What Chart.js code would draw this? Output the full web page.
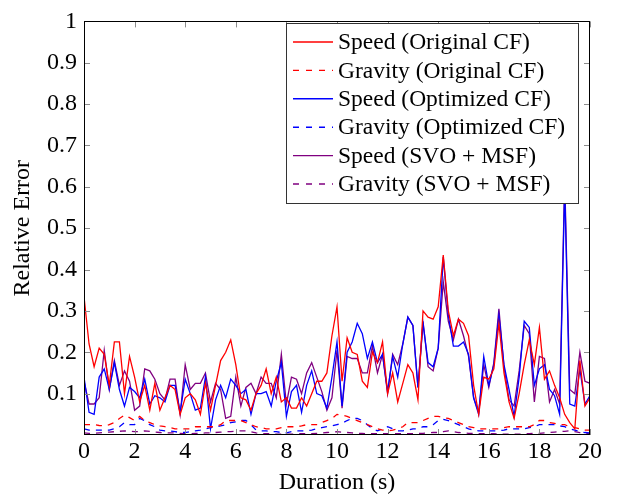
<!DOCTYPE html>
<html>
<head>
<meta charset="utf-8">
<script src="https://cdn.jsdelivr.net/npm/chart.js@4.4.1/dist/chart.umd.min.js"></script>
<style>
html,body{margin:0;padding:0;background:#fff;}
#wrap{width:620px;height:495px;}
</style>
</head>
<body>
<div id="wrap"><canvas id="c" width="620" height="495"></canvas></div>
<script>
const durations = [0,0.2,0.4,0.6,0.8,1,1.2,1.4,1.6,1.8,2,2.2,2.4,2.6,2.8,3,3.2,3.4,3.6,3.8,4,4.2,4.4,4.6,4.8,5,5.2,5.4,5.6,5.8,6,6.2,6.4,6.6,6.8,7,7.2,7.4,7.6,7.8,8,8.2,8.4,8.6,8.8,9,9.2,9.4,9.6,9.8,10,10.2,10.4,10.6,10.8,11,11.2,11.4,11.6,11.8,12,12.2,12.4,12.6,12.8,13,13.2,13.4,13.6,13.8,14,14.2,14.4,14.6,14.8,15,15.2,15.4,15.6,15.8,16,16.2,16.4,16.6,16.8,17,17.2,17.4,17.6,17.8,18,18.2,18.4,18.6,18.8,19,19.2,19.4,19.6,19.8,20];

const speedOriginal = [0.335,0.22,0.165,0.21,0.195,0.12,0.225,0.225,0.10,0.19,
0.14,0.08,0.12,0.06,0.125,0.06,0.09,0.12,0.11,0.05,
0.09,0.10,0.085,0.05,0.125,0.06,0.12,0.18,0.20,0.23,
0.17,0.09,0.085,0.06,0.10,0.12,0.16,0.10,0.14,0.08,
0.09,0.065,0.065,0.09,0.07,0.10,0.13,0.13,0.15,0.24,
0.31,0.13,0.235,0.20,0.195,0.13,0.115,0.20,0.175,0.225,
0.10,0.15,0.08,0.125,0.17,0.15,0.085,0.30,0.285,0.28,
0.31,0.435,0.30,0.24,0.28,0.27,0.24,0.12,0.05,0.14,
0.135,0.16,0.27,0.15,0.08,0.04,0.10,0.17,0.23,0.17,
0.26,0.135,0.155,0.12,0.09,0.05,0.03,0.015,0.18,0.07,
0.09];

const gravityOriginal = [0.025,0.025,0.025,0.023,0.022,0.025,0.03,0.04,0.048,0.042,
0.035,0.045,0.035,0.03,0.025,0.022,0.02,0.018,0.015,0.015,
0.015,0.015,0.02,0.02,0.02,0.02,0.02,0.025,0.035,0.035,
0.035,0.035,0.03,0.025,0.02,0.018,0.015,0.015,0.015,0.018,
0.02,0.02,0.02,0.022,0.025,0.025,0.025,0.03,0.035,0.04,
0.05,0.048,0.045,0.04,0.035,0.03,0.025,0.02,0.015,0.012,
0.01,0.012,0.015,0.02,0.03,0.03,0.03,0.035,0.04,0.045,
0.045,0.042,0.04,0.035,0.03,0.025,0.02,0.018,0.015,0.015,
0.015,0.015,0.015,0.018,0.02,0.02,0.02,0.02,0.02,0.025,
0.035,0.035,0.03,0.028,0.025,0.025,0.02,0.018,0.015,0.012,
0.012];

const speedOptimized = [0.14,0.055,0.05,0.14,0.16,0.11,0.175,0.11,0.07,0.115,
0.105,0.09,0.135,0.075,0.095,0.09,0.08,0.12,0.12,0.055,
0.135,0.10,0.06,0.065,0.14,0.015,0.085,0.12,0.09,0.135,
0.12,0.10,0.11,0.05,0.10,0.10,0.105,0.07,0.13,0.175,
0.045,0.105,0.12,0.055,0.12,0.155,0.10,0.095,0.065,0.14,
0.225,0.07,0.20,0.225,0.27,0.245,0.185,0.225,0.175,0.195,
0.105,0.19,0.14,0.22,0.285,0.265,0.115,0.27,0.175,0.165,
0.21,0.43,0.29,0.215,0.215,0.225,0.195,0.09,0.05,0.19,
0.12,0.17,0.29,0.17,0.11,0.045,0.14,0.275,0.26,0.12,
0.16,0.17,0.11,0.095,0.05,0.60,0.075,0.07,0.16,0.075,
0.095];

const gravityOptimized = [0.015,0.012,0.012,0.012,0.012,0.012,0.015,0.02,0.03,0.025,
0.025,0.04,0.035,0.025,0.02,0.012,0.01,0.01,0.008,0.006,
0.006,0.008,0.01,0.012,0.015,0.018,0.02,0.022,0.025,0.03,
0.032,0.035,0.035,0.025,0.012,0.01,0.01,0.008,0.008,0.006,
0.005,0.008,0.01,0.01,0.01,0.012,0.015,0.018,0.02,0.022,
0.025,0.028,0.035,0.04,0.04,0.035,0.025,0.015,0.01,0.015,
0.02,0.015,0.01,0.01,0.012,0.015,0.015,0.02,0.02,0.025,
0.035,0.038,0.035,0.03,0.025,0.02,0.015,0.012,0.01,0.01,
0.01,0.01,0.01,0.012,0.015,0.015,0.015,0.015,0.018,0.02,
0.025,0.025,0.025,0.025,0.022,0.02,0.015,0.012,0.008,0.006,
0.005];

const speedSVO = [0.13,0.075,0.075,0.09,0.205,0.11,0.18,0.12,0.155,0.13,
0.06,0.07,0.16,0.155,0.135,0.10,0.085,0.135,0.135,0.05,
0.17,0.11,0.125,0.125,0.15,0.08,0.125,0.11,0.04,0.045,
0.14,0.07,0.115,0.125,0.10,0.14,0.125,0.125,0.09,0.195,
0.075,0.14,0.135,0.10,0.15,0.175,0.14,0.105,0.06,0.09,
0.205,0.065,0.19,0.185,0.185,0.15,0.15,0.215,0.15,0.195,
0.10,0.195,0.17,0.22,0.285,0.265,0.115,0.275,0.165,0.155,
0.21,0.37,0.275,0.23,0.28,0.24,0.19,0.09,0.055,0.17,
0.115,0.175,0.305,0.165,0.085,0.07,0.155,0.265,0.245,0.08,
0.19,0.185,0.08,0.11,0.075,0.62,0.11,0.10,0.20,0.13,
0.125];

const gravitySVO = [0.005,0.004,0.004,0.005,0.006,0.007,0.008,0.009,0.01,0.009,
0.008,0.008,0.01,0.009,0.007,0.006,0.005,0.005,0.005,0.004,
0.003,0.003,0.004,0.004,0.005,0.005,0.006,0.007,0.008,0.008,
0.009,0.01,0.01,0.008,0.005,0.003,0.003,0.003,0.002,0.002,
0.002,0.002,0.003,0.003,0.003,0.003,0.004,0.005,0.006,0.007,
0.008,0.007,0.006,0.005,0.004,0.004,0.003,0.003,0.003,0.003,
0.003,0.003,0.003,0.003,0.003,0.003,0.004,0.004,0.005,0.006,
0.006,0.008,0.01,0.008,0.006,0.005,0.004,0.004,0.003,0.003,
0.003,0.003,0.002,0.002,0.002,0.002,0.002,0.003,0.003,0.004,
0.004,0.005,0.006,0.007,0.008,0.009,0.01,0.008,0.006,0.004,
0.003];

const seriesLabels = ['Speed (Original CF)','Gravity (Original CF)','Speed (Optimized CF)','Gravity (Optimized CF)','Speed (SVO + MSF)','Gravity (SVO + MSF)'];
const xTicks = [0,2,4,6,8,10,12,14,16,18,20];
const yTicks = [0.1,0.2,0.3,0.4,0.5,0.6,0.7,0.8,0.9,1];

const RED = '#ff0000', BLUE = '#0000ff', PURPLE = '#800080';
const FONT = '"Liberation Serif", "DejaVu Serif", serif';
const DASH = [6,6];

function pts(arr){ return arr.map((v,i)=>({x:durations[i], y:v})); }

const seriesDefs = [
  {data: speedOriginal, color: RED, dash: []},
  {data: gravityOriginal, color: RED, dash: DASH},
  {data: speedOptimized, color: BLUE, dash: []},
  {data: gravityOptimized, color: BLUE, dash: DASH},
  {data: speedSVO, color: PURPLE, dash: []},
  {data: gravitySVO, color: PURPLE, dash: DASH}
];

const datasets = seriesDefs.map((s,i)=>({
  label: seriesLabels[i],
  data: pts(s.data),
  borderColor: s.color,
  backgroundColor: s.color,
  borderWidth: 1.3,
  borderDash: s.dash,
  pointRadius: 0,
  tension: 0,
  fill: false
}));

const framePlugin = {
  id: 'frame',
  afterDatasetsDraw(chart){
    const ctx = chart.ctx, a = chart.chartArea;
    const xs = chart.scales.x, ys = chart.scales.y;
    ctx.save();
    ctx.strokeStyle = '#8c8c8c';
    ctx.lineWidth = 1;
    const L = 6;
    ctx.beginPath();
    xTicks.forEach(t=>{
      const px = Math.round(xs.getPixelForValue(t)) + 0.5;
      ctx.moveTo(px, a.bottom); ctx.lineTo(px, a.bottom - L);
      ctx.moveTo(px, a.top); ctx.lineTo(px, a.top + L);
    });
    yTicks.forEach(t=>{
      const py = Math.round(ys.getPixelForValue(t)) + 0.5;
      ctx.moveTo(a.left, py); ctx.lineTo(a.left + L, py);
      ctx.moveTo(a.right, py); ctx.lineTo(a.right - L, py);
    });
    ctx.stroke();
    ctx.strokeStyle = '#000';
    ctx.lineWidth = 1;
    ctx.strokeRect(Math.round(a.left)+0.5, Math.round(a.top)+0.5, Math.round(a.right-a.left)-1, Math.round(a.bottom-a.top)-1);

    const bx = 286.5, by = 23.5, bw = 292, bh = 180;
    ctx.fillStyle = '#fff';
    ctx.fillRect(bx, by, bw, bh);
    ctx.strokeStyle = '#333';
    ctx.strokeRect(bx, by, bw, bh);
    ctx.font = '23.5px ' + FONT;
    ctx.textBaseline = 'middle';
    ctx.textAlign = 'left';
    seriesDefs.forEach((s,i)=>{
      const cy = 42 + i*28.4;
      ctx.strokeStyle = s.color;
      ctx.lineWidth = 1.4;
      ctx.setLineDash(s.dash.length ? [6,7] : []);
      ctx.beginPath();
      ctx.moveTo(293, cy); ctx.lineTo(333, cy);
      ctx.stroke();
      ctx.setLineDash([]);
      ctx.fillStyle = '#000';
      ctx.fillText(seriesLabels[i], 338, cy + 1);
    });
    ctx.restore();
  }
};

new Chart(document.getElementById('c'), {
  type: 'line',
  data: { datasets },
  options: {
    responsive: false,
    animation: false,
    devicePixelRatio: 1,
    layout: { padding: { top: 14, right: 30, left: 0, bottom: 0 } },
    plugins: { legend: { display: false }, tooltip: { enabled: false } },
    scales: {
      x: {
        type: 'linear', min: 0, max: 20,
        grid: { display: false, drawTicks: false },
        border: { display: false },
        afterBuildTicks(scale){ scale.ticks = xTicks.map(v=>({value:v})); },
        afterFit(scale){ scale.height = 60; },
        ticks: { color: '#000', font: { family: FONT, size: 24 }, padding: 2, maxRotation: 0, autoSkip: false },
        title: { display: true, text: 'Duration (s)', color: '#000', font: { family: FONT, size: 24 }, padding: { top: 0, bottom: -2 } }
      },
      y: {
        type: 'linear', min: 0, max: 1,
        grid: { display: false, drawTicks: false },
        border: { display: false },
        afterBuildTicks(scale){ scale.ticks = [0].concat(yTicks).map(v=>({value:v})); },
        afterFit(scale){ scale.width = 84; },
        ticks: { color: '#000', font: { family: FONT, size: 24 }, padding: 7, autoSkip: false,
          callback: v => v === 0 ? '' : String(Math.round(v*10)/10) },
        title: { display: true, text: 'Relative Error', color: '#000', font: { family: FONT, size: 24 }, padding: { top: 8, bottom: 0 } }
      }
    }
  },
  plugins: [framePlugin]
});
</script>
</body>
</html>
